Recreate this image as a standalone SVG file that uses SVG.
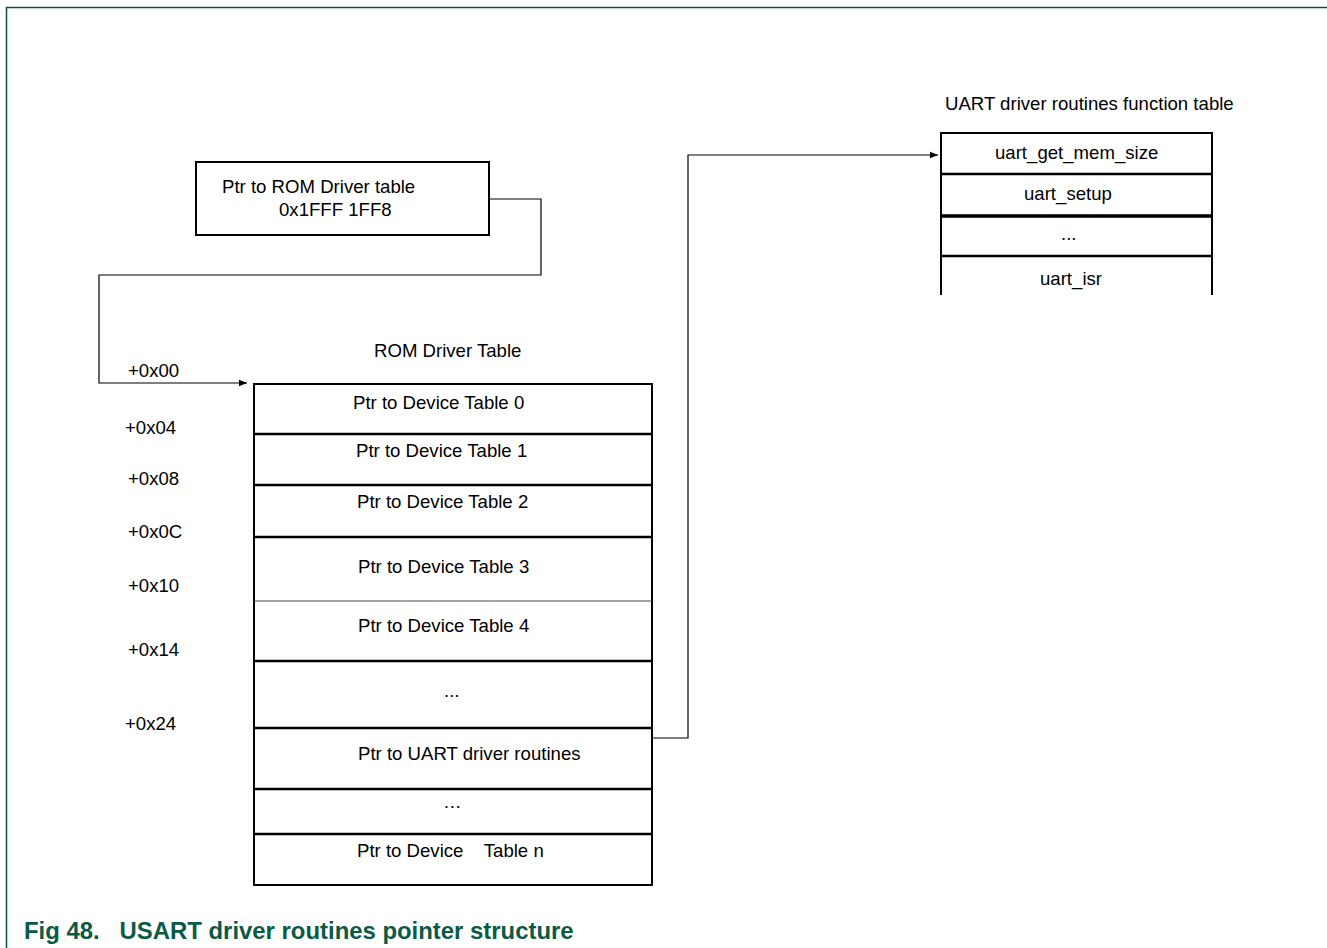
<svg xmlns="http://www.w3.org/2000/svg" width="1327" height="948" viewBox="0 0 1327 948">
<style>
text{font-family:"Liberation Sans",Arial,sans-serif;font-size:18.6px;fill:#000}
.cap{font-size:23.9px;font-weight:bold;fill:#0b5a45}
.box{fill:#fff;stroke:#000;stroke-width:2}
.thin{stroke:#444;stroke-width:1;fill:none}
.thick{stroke:#000;stroke-width:2.5;fill:none}
.conn{stroke:#000;stroke-width:1.2;fill:none}
</style>
<defs>
<marker id="arr" viewBox="0 0 10 10" refX="10" refY="5" markerWidth="8" markerHeight="8" markerUnits="userSpaceOnUse" orient="auto">
<path d="M0,1 L10,5 L0,9 z" fill="#000"/>
</marker>
</defs>
<rect width="1327" height="948" fill="#fff"/>
<path d="M6.5,948 V7.5 H1327" fill="none" stroke="#0b4f3e" stroke-width="1.5"/>

<g id="connectors">
<path class="conn" d="M489,199 H541 V275 H99 V383 H247" marker-end="url(#arr)"/>
<path class="conn" d="M652,738 H688 V155 H938" marker-end="url(#arr)"/>
</g>

<g id="ptr-rom">
<rect class="box" x="196" y="162" width="293" height="73"/>
<text x="222" y="193">Ptr to ROM Driver table</text>
<text x="279" y="216">0x1FFF 1FF8</text>
</g>

<g id="offsets">
<text x="128" y="377">+0x00</text>
<text x="125" y="434">+0x04</text>
<text x="128" y="485">+0x08</text>
<text x="128" y="538">+0x0C</text>
<text x="128" y="592">+0x10</text>
<text x="128" y="656">+0x14</text>
<text x="125" y="730">+0x24</text>
</g>

<g id="rom-table">
<text x="374" y="357">ROM Driver Table</text>
<rect class="box" x="254" y="384" width="398" height="501"/>
<line class="thick" x1="254" y1="434" x2="652" y2="434"/>
<line class="thick" x1="254" y1="485" x2="652" y2="485"/>
<line class="thick" x1="254" y1="537" x2="652" y2="537"/>
<line class="thin" x1="254" y1="601" x2="652" y2="601"/>
<line class="thick" x1="254" y1="661" x2="652" y2="661"/>
<line class="thick" x1="254" y1="728" x2="652" y2="728"/>
<line class="thick" x1="254" y1="789" x2="652" y2="789"/>
<line class="thick" x1="254" y1="834" x2="652" y2="834"/>
<text x="353" y="409">Ptr to Device Table 0</text>
<text x="356" y="457">Ptr to Device Table 1</text>
<text x="357" y="508">Ptr to Device Table 2</text>
<text x="358" y="573">Ptr to Device Table 3</text>
<text x="358" y="632">Ptr to Device Table 4</text>
<text x="444" y="697">...</text>
<text x="443" y="808" letter-spacing="1">…</text>
<text x="358" y="760">Ptr to UART driver routines</text>
<text x="357" y="857" xml:space="preserve">Ptr to Device    Table n</text>
</g>

<g id="uart-table">
<text x="945" y="110">UART driver routines function table</text>
<path class="box" d="M941,295 V133 H1212 V295"/>
<line class="thick" x1="941" y1="174" x2="1212" y2="174"/>
<line x1="941" y1="216" x2="1212" y2="216" stroke="#000" stroke-width="3.5"/>
<line class="thick" x1="941" y1="256" x2="1212" y2="256"/>
<text x="995" y="159">uart_get_mem_size</text>
<text x="1024" y="200">uart_setup</text>
<text x="1061" y="240">...</text>
<text x="1040" y="285">uart_isr</text>
</g>

<text class="cap" x="24" y="939" xml:space="preserve">Fig 48.   USART driver routines pointer structure</text>
</svg>
